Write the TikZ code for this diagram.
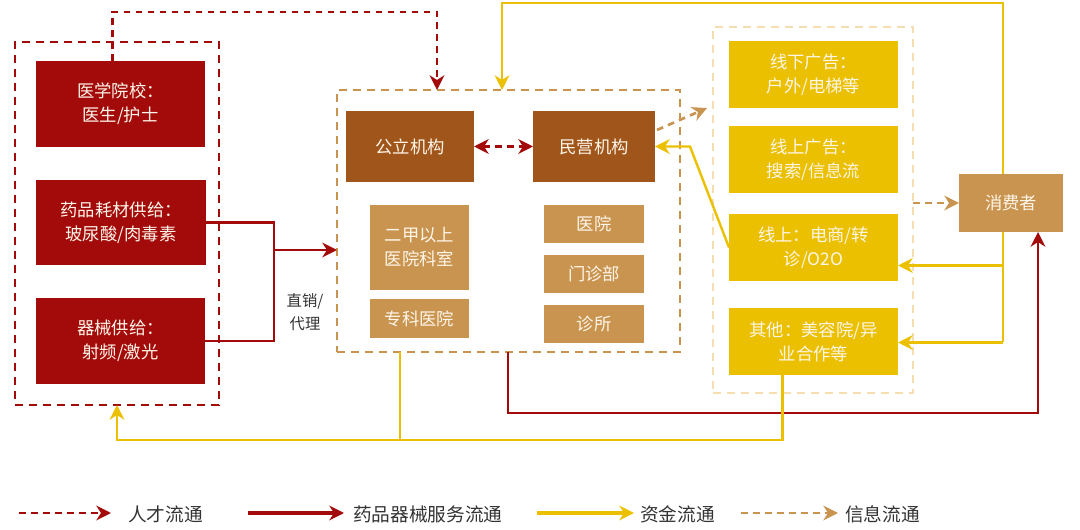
\documentclass[tikz,border=0pt]{standalone}
\usepackage{fontspec}
\setmainfont{Noto Sans CJK SC}
\usetikzlibrary{arrows.meta,calc}

\definecolor{dred}{HTML}{A30B0B}
\definecolor{brownb}{HTML}{A0561A}
\definecolor{tanb}{HTML}{C9944F}
\definecolor{goldb}{HTML}{EBC000}
\definecolor{paledash}{HTML}{F6DEB0}
\definecolor{cream}{HTML}{FFF6EA}
\definecolor{legtext}{HTML}{333333}

% box from corner (x1,y1) to corner (x2,y2), in pixel units
\newcommand\boxnode[7]{%
  \node[#1, minimum width={(#5-#3)*0.75pt}, minimum height={(#6-#4)*0.75pt}]
    (#2) at ({(#3+#5)/2},{(#4+#6)/2}) {#7};}

\tikzset{
  base/.style={inner sep=0pt, outer sep=0pt, align=center, text=cream,
    font=\fontsize{13}{18}\selectfont},
  redbox/.style={base, fill=dred},
  brownbox/.style={base, fill=brownb},
  tanbox/.style={base, fill=tanb},
  goldbox/.style={base, fill=goldb},
  group/.style={inner sep=0pt, outer sep=0pt, draw, line width=2pt,
    dash pattern=on 6pt off 4.5pt},
  tip/.style={-{Stealth[length=11pt,width=11pt,inset=3.5pt]}},
  talent/.style={tip, draw=dred, line width=2pt, dash pattern=on 5pt off 4pt},
  goods/.style={tip, draw=dred, line width=2pt},
  money/.style={tip, draw=goldb, line width=1.8pt},
  info/.style={tip, draw=tanb, line width=2pt, dash pattern=on 5pt off 4pt},
  plain/.style={-{}},
  legend/.style={text=legtext, font=\fontsize{14}{16}\selectfont, anchor=west,
    inner sep=0pt}
}

\begin{document}
\begin{tikzpicture}[x=0.75pt,y=-0.75pt]
\useasboundingbox (0,0) rectangle (1080,530);

% dashed groups
\boxnode{group, draw=dred}{left}{15}{42}{219}{405}{}
\boxnode{group, draw=tanb}{mid}{337}{90}{680}{352}{}
\boxnode{group, draw=paledash}{right}{713}{27}{913}{393}{}

% supply side
\boxnode{redbox}{xue}{36}{61}{205}{147}{医学院校：\\医生/护士}
\boxnode{redbox}{yao}{36}{180}{206}{265}{药品耗材供给：\\玻尿酸/肉毒素}
\boxnode{redbox}{qi}{36}{298}{205}{384}{器械供给：\\射频/激光}

% institutions
\boxnode{brownbox}{gong}{346}{111}{474}{182}{公立机构}
\boxnode{brownbox}{min}{533}{111}{655}{182}{民营机构}
\boxnode{tanbox}{erjia}{370}{205}{469}{290}{二甲以上\\医院科室}
\boxnode{tanbox}{zhuanke}{370}{299}{469}{338}{专科医院}
\boxnode{tanbox}{yiyuan}{544}{205}{644}{243}{医院}
\boxnode{tanbox}{menzhen}{544}{255}{644}{293}{门诊部}
\boxnode{tanbox}{zhensuo}{544}{305}{644}{343}{诊所}

% channels
\boxnode{goldbox}{offline}{729}{41}{898}{108}{线下广告：\\户外/电梯等}
\boxnode{goldbox}{onlinead}{729}{126}{898}{193}{线上广告：\\搜索/信息流}
\boxnode{goldbox}{online}{729}{214}{898}{281}{线上：电商/转\\诊/O2O}
\boxnode{goldbox}{qita}{729}{308}{898}{375}{其他：美容院/异\\业合作等}

% consumer
\boxnode{tanbox}{cons}{959}{174}{1063}{232}{消费者}

% talent flow
\draw[talent] ($(xue.north)+(-8,0)$) -- ++(0,-49)
  -| ($(mid.north west)+(100,0)$);
\draw[talent, {Stealth[length=11pt,width=11pt,inset=3.5pt]}-{Stealth[length=11pt,width=11pt,inset=3.5pt]}]
  (gong.east) -- (min.west);

% goods flow
\draw[plain, draw=dred, line width=2pt] (yao.east) -- ++(68,0) |- (qi.east);
\draw[goods] ($(mid.west)+(-63,29)$) -- ($(mid.west)+(0,29)$);
\node[text=legtext, font=\fontsize{11.5}{17}\selectfont, align=center, inner sep=0pt]
  (zhixiao) at (305,312) {直销/\\代理};
\draw[goods] ($(mid.south west)+(171,0)$) -- ++(0,61) -| ($(cons.south)+(27,0)$);

% money flow
\draw[money] ($(cons.north)+(-8,0)$) -- ++(0,-171) -| ($(mid.north west)+(165,0)$);
\draw[plain, draw=goldb, line width=1.8pt] ($(cons.south)+(-8,0)$) -- ($(qita.east)+(105,1)$);
\draw[money] ($(online.east)+(105,18)$) -- ($(online.east)+(0,18)$);
\draw[money] ($(qita.east)+(105,1)$) -- ($(qita.east)+(0,1)$);
\draw[money] (online.west) -- ($(min.east)+(35,0)$) -- (min.east);
\draw[money] ($(qita.south)+(-31,0)$) -- ++(0,65) -| (left.south);
\draw[plain, draw=goldb, line width=1.8pt] ($(mid.south west)+(63,0)$) -- ++(0,88);

% info flow
\draw[info] ($(min.north east)+(2,19)$) -- ($(right.north west)+(-6,81)$);
\draw[info] (right.east |- cons.west) -- (cons.west);

% legend
\coordinate (l1a) at (19,513);  \coordinate (l1b) at (111,513);
\coordinate (l2a) at (248,513); \coordinate (l2b) at (344,513);
\coordinate (l3a) at (537,513); \coordinate (l3b) at (634,513);
\coordinate (l4a) at (741,513); \coordinate (l4b) at (838,513);
\draw[talent] (l1a) -- (l1b);
\draw[goods, line width=2.6pt] (l2a) -- (l2b);
\draw[money, line width=2.6pt] (l3a) -- (l3b);
\draw[info] (l4a) -- (l4b);
\node[legend] (t1) at (128,514) {人才流通};
\node[legend] (t2) at (353,514) {药品器械服务流通};
\node[legend] (t3) at (640,514) {资金流通};
\node[legend] (t4) at (845,514) {信息流通};
\end{tikzpicture}
\end{document}
